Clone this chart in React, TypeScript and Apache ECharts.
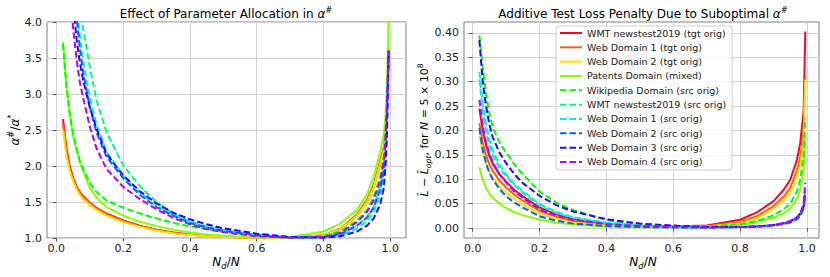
import React, { useEffect, useRef } from 'react';
import * as echarts from 'echarts';

const seriesNames = [
  'WMT newstest2019 (tgt orig)',
  'Web Domain 1 (tgt orig)',
  'Web Domain 2 (tgt orig)',
  'Patents Domain (mixed)',
  'Wikipedia Domain (src orig)',
  'WMT newstest2019 (src orig)',
  'Web Domain 1 (src orig)',
  'Web Domain 2 (src orig)',
  'Web Domain 3 (src orig)',
  'Web Domain 4 (src orig)',
];
const seriesColors = ['#ff0029', '#ff6100', '#ffe000', '#8aff00', '#00ff00', '#00ff89', '#00ebff', '#0061ff', '#2a00ff', '#b400ff'];
const seriesDashed = [false, false, false, false, true, true, true, true, true, true];

const xTicks = [0, 0.2, 0.4, 0.6, 0.8, 1.0];
const lossTicks = [0, 0.05, 0.1, 0.15, 0.2, 0.25, 0.3, 0.35, 0.4];

// Left panel: alpha#/alpha* vs Nd/N
const alphaX = [0.02, 0.03, 0.04, 0.05, 0.06, 0.07, 0.08, 0.1, 0.12, 0.15, 0.2, 0.25, 0.3, 0.35, 0.4, 0.45, 0.5, 0.6, 0.7, 0.8, 0.85, 0.9, 0.93, 0.95, 0.97, 0.98, 0.985, 0.99, 0.995];
const alphaWmtTgt = [2.65, 2.25, 2.0, 1.84, 1.72, 1.64, 1.58, 1.49, 1.42, 1.34, 1.245, 1.17, 1.115, 1.075, 1.05, 1.03, 1.018, 1.004, 1.0, 1.035, 1.12, 1.31, 1.5, 1.7, 2.03, 2.22, 2.45, 2.8, 3.6];
const alphaWeb1Tgt = [2.58, 2.2, 1.97, 1.82, 1.71, 1.63, 1.57, 1.48, 1.41, 1.33, 1.235, 1.165, 1.11, 1.07, 1.045, 1.027, 1.015, 1.003, 1.0, 1.04, 1.13, 1.33, 1.53, 1.74, 2.08, 2.25, 2.5, 2.85, 3.6];
const alphaWeb2Tgt = [2.5, 2.14, 1.93, 1.79, 1.68, 1.6, 1.54, 1.46, 1.39, 1.31, 1.22, 1.155, 1.1, 1.065, 1.04, 1.024, 1.013, 1.003, 1.0, 1.037, 1.12, 1.31, 1.5, 1.7, 2.03, 2.2, 2.45, 2.8, 3.6];
const alphaPatents = [3.72, 3.1, 2.7, 2.42, 2.22, 2.06, 1.93, 1.7, 1.56, 1.43, 1.31, 1.225, 1.165, 1.115, 1.075, 1.05, 1.03, 1.008, 1.01, 1.09, 1.2, 1.39, 1.6, 1.85, 2.2, 2.42, 2.65, 3.1, 4.1];
const alphaWikiSrc = [3.7, 3.12, 2.74, 2.46, 2.26, 2.08, 1.96, 1.77, 1.64, 1.52, 1.42, 1.34, 1.27, 1.21, 1.16, 1.12, 1.085, 1.035, 1.008, 1.03, 1.09, 1.24, 1.39, 1.56, 1.86, 2.1, 2.35, 2.8, 3.6];
const alphaWmtSrc = [12, 8.5, 6.6, 5.4, 4.7, 4.25, 3.92, 3.38, 2.92, 2.47, 2.01, 1.72, 1.5, 1.34, 1.23, 1.16, 1.11, 1.045, 1.008, 1.015, 1.06, 1.17, 1.29, 1.43, 1.72, 1.97, 2.25, 2.75, 3.6];
const alphaWeb1Src = [11.5, 8, 6.1, 4.95, 4.3, 3.82, 3.47, 2.95, 2.58, 2.2, 1.86, 1.63, 1.45, 1.32, 1.22, 1.155, 1.105, 1.04, 1.006, 1.008, 1.04, 1.13, 1.23, 1.35, 1.6, 1.82, 2.08, 2.55, 3.6];
const alphaWeb2Src = [11, 7.6, 5.8, 4.7, 4.1, 3.65, 3.3, 2.82, 2.47, 2.13, 1.83, 1.6, 1.43, 1.31, 1.21, 1.145, 1.1, 1.038, 1.005, 1.012, 1.055, 1.17, 1.28, 1.42, 1.68, 1.92, 2.2, 2.68, 3.6];
const alphaWeb3Src = [10, 7, 5.3, 4.3, 3.78, 3.45, 3.2, 2.82, 2.52, 2.17, 1.87, 1.65, 1.48, 1.35, 1.26, 1.19, 1.135, 1.06, 1.015, 1.003, 1.025, 1.09, 1.17, 1.27, 1.47, 1.68, 1.95, 2.4, 3.6];
const alphaWeb4Src = [9, 6.2, 4.7, 3.92, 3.5, 3.17, 2.95, 2.55, 2.25, 1.96, 1.71, 1.54, 1.4, 1.28, 1.19, 1.125, 1.08, 1.025, 1.002, 1.015, 1.07, 1.22, 1.36, 1.52, 1.8, 2.05, 2.35, 2.85, 3.6];

// Right panel: loss penalty vs Nd/N
const lossX = [0.02, 0.03, 0.04, 0.05, 0.06, 0.08, 0.1, 0.125, 0.15, 0.2, 0.25, 0.3, 0.4, 0.5, 0.6, 0.7, 0.8, 0.85, 0.9, 0.93, 0.95, 0.97, 0.98, 0.99, 0.995];
const lossWmtTgt = [0.245, 0.2, 0.17, 0.148, 0.132, 0.11, 0.095, 0.078, 0.065, 0.042, 0.028, 0.018, 0.008, 0.004, 0.003, 0.005, 0.017, 0.032, 0.055, 0.078, 0.099, 0.14, 0.175, 0.24, 0.403];
const lossWeb1Tgt = [0.215, 0.175, 0.15, 0.13, 0.117, 0.097, 0.083, 0.068, 0.056, 0.035, 0.023, 0.014, 0.006, 0.003, 0.002, 0.004, 0.012, 0.024, 0.045, 0.064, 0.082, 0.118, 0.145, 0.2, 0.31];
const lossWeb2Tgt = [0.19, 0.155, 0.132, 0.115, 0.103, 0.085, 0.072, 0.059, 0.048, 0.029, 0.019, 0.011, 0.005, 0.002, 0.002, 0.003, 0.01, 0.02, 0.04, 0.057, 0.072, 0.106, 0.13, 0.18, 0.304];
const lossPatents = [0.124, 0.098, 0.082, 0.07, 0.062, 0.05, 0.041, 0.032, 0.026, 0.017, 0.011, 0.007, 0.003, 0.001, 0.001, 0.002, 0.006, 0.012, 0.021, 0.03, 0.04, 0.06, 0.08, 0.12, 0.19];
const lossWikiSrc = [0.395, 0.33, 0.275, 0.235, 0.207, 0.175, 0.155, 0.13, 0.11, 0.075, 0.052, 0.037, 0.016, 0.007, 0.003, 0.003, 0.008, 0.014, 0.026, 0.038, 0.05, 0.075, 0.1, 0.15, 0.225];
const lossWmtSrc = [0.32, 0.255, 0.212, 0.18, 0.158, 0.13, 0.11, 0.09, 0.075, 0.049, 0.033, 0.022, 0.011, 0.005, 0.002, 0.001, 0.002, 0.003, 0.006, 0.009, 0.013, 0.021, 0.029, 0.045, 0.08];
const lossWeb1Src = [0.305, 0.24, 0.2, 0.17, 0.15, 0.123, 0.106, 0.087, 0.072, 0.046, 0.031, 0.021, 0.01, 0.005, 0.002, 0.001, 0.002, 0.003, 0.006, 0.009, 0.013, 0.02, 0.027, 0.042, 0.072];
const lossWeb2Src = [0.205, 0.16, 0.133, 0.113, 0.1, 0.08, 0.065, 0.052, 0.042, 0.024, 0.015, 0.009, 0.004, 0.002, 0.001, 0.001, 0.002, 0.003, 0.005, 0.008, 0.011, 0.018, 0.025, 0.04, 0.065];
const lossWeb3Src = [0.385, 0.3, 0.25, 0.212, 0.186, 0.155, 0.133, 0.11, 0.092, 0.066, 0.047, 0.034, 0.018, 0.009, 0.005, 0.002, 0.002, 0.003, 0.006, 0.01, 0.014, 0.022, 0.03, 0.045, 0.075];
const lossWeb4Src = [0.263, 0.21, 0.175, 0.152, 0.135, 0.11, 0.093, 0.075, 0.062, 0.038, 0.025, 0.017, 0.008, 0.004, 0.002, 0.001, 0.002, 0.003, 0.006, 0.01, 0.014, 0.022, 0.03, 0.05, 0.093];

const alphaSeries = [alphaWmtTgt, alphaWeb1Tgt, alphaWeb2Tgt, alphaPatents, alphaWikiSrc, alphaWmtSrc, alphaWeb1Src, alphaWeb2Src, alphaWeb3Src, alphaWeb4Src];
const lossSeries = [lossWmtTgt, lossWeb1Tgt, lossWeb2Tgt, lossPatents, lossWikiSrc, lossWmtSrc, lossWeb1Src, lossWeb2Src, lossWeb3Src, lossWeb4Src];

const FONT = 'DejaVu Sans';

const richStyles = (size: number) => ({
  t: { fontSize: size, fontFamily: FONT, fill: '#000', lineHeight: 16, verticalAlign: 'middle' },
  i: { fontSize: size, fontFamily: FONT, fontStyle: 'italic', fill: '#000', lineHeight: 16, verticalAlign: 'middle' },
  s: { fontSize: size * 0.7, fontFamily: FONT, fill: '#000', lineHeight: 7, verticalAlign: 'top' },
  b: { fontSize: size * 0.7, fontFamily: FONT, fontStyle: 'italic', fill: '#000', lineHeight: 7, verticalAlign: 'bottom' },
});

export default function App() {
  const ref = useRef<HTMLDivElement>(null);
  useEffect(() => {
    if (!ref.current) return;
    const chart = echarts.init(ref.current, undefined, { renderer: 'svg' });

    const axisCommon = {
      type: 'value' as const,
      axisLine: { show: false },
      axisTick: { show: true, inside: false, length: 3.5, lineStyle: { color: '#555', width: 1 } },
      axisLabel: { color: '#222', fontSize: 11, fontFamily: FONT, margin: 5, showMinLabel: true, showMaxLabel: true },
      splitLine: { show: true, lineStyle: { color: '#d4d4d4', width: 1 } },
    };

    const mkSeries = (xs: number[], ys: number[], i: number, idx: number) => ({
      type: 'line',
      name: seriesNames[i],
      xAxisIndex: idx,
      yAxisIndex: idx,
      data: xs.map((x, k) => [x, ys[k]]),
      symbol: 'none',
      smooth: false,
      clip: true,
      lineStyle: { color: seriesColors[i], width: 2, type: seriesDashed[i] ? [6.5, 3] : 'solid', cap: 'butt', join: 'round' },
      itemStyle: { color: seriesColors[i] },
      z: 3 + i,
    });

    const series: any[] = [];
    alphaSeries.forEach((ys, i) => series.push(mkSeries(alphaX, ys, i, 0)));
    lossSeries.forEach((ys, i) => series.push(mkSeries(lossX, ys, i, 1)));

    chart.setOption({
      animation: false,
      backgroundColor: '#fff',
      grid: [
        { left: 47, top: 22, width: 359, height: 216, show: true, borderColor: '#808080', borderWidth: 1, backgroundColor: 'transparent' },
        { left: 464, top: 22, width: 355, height: 216, show: true, borderColor: '#808080', borderWidth: 1, backgroundColor: 'transparent' },
      ],
      xAxis: [
        {
          ...axisCommon, gridIndex: 0, min: -0.028, max: 1.047,
          axisTick: { ...axisCommon.axisTick, customValues: xTicks },
          axisLabel: { ...axisCommon.axisLabel, customValues: xTicks, formatter: (v: number) => v.toFixed(1) },
        },
        {
          ...axisCommon, gridIndex: 1, min: -0.026, max: 1.036,
          axisTick: { ...axisCommon.axisTick, customValues: xTicks },
          axisLabel: { ...axisCommon.axisLabel, customValues: xTicks, formatter: (v: number) => v.toFixed(1) },
        },
      ],
      yAxis: [
        {
          ...axisCommon, gridIndex: 0, min: 1, max: 4, interval: 0.5,
          axisLabel: { ...axisCommon.axisLabel, formatter: (v: number) => v.toFixed(1) },
        },
        {
          ...axisCommon, gridIndex: 1, min: -0.0205, max: 0.4225,
          axisTick: { ...axisCommon.axisTick, customValues: lossTicks },
          axisLabel: { ...axisCommon.axisLabel, customValues: lossTicks, formatter: (v: number) => v.toFixed(2) },
        },
      ],
      legend: {
        data: seriesNames,
        orient: 'vertical',
        left: 556,
        top: 26,
        itemWidth: 22,
        itemHeight: 12,
        itemGap: 2.33,
        padding: [1, 6, 2, 3],
        backgroundColor: 'rgba(255,255,255,0.85)',
        borderColor: '#d0d0d0',
        borderWidth: 1,
        borderRadius: 3,
        selectedMode: false,
        itemStyle: { opacity: 0 },
        textStyle: { fontSize: 9.5, fontFamily: FONT, color: '#222', lineHeight: 12 },
        z: 20,
      },
      graphic: [
        {
          type: 'text', x: 226, y: 14, z: 30,
          style: { text: '{t|Effect of Parameter Allocation in }{i|α}{s|#}', rich: richStyles(12), align: 'center', verticalAlign: 'middle' },
        },
        {
          type: 'text', x: 643, y: 14, z: 30,
          style: { text: '{t|Additive Test Loss Penalty Due to Suboptimal }{i|α}{s|#}', rich: richStyles(12), align: 'center', verticalAlign: 'middle' },
        },
        {
          type: 'text', x: 226, y: 262, z: 30,
          style: { text: '{i|N}{b|d}{t|/}{i|N}', rich: richStyles(12), align: 'center', verticalAlign: 'middle' },
        },
        {
          type: 'text', x: 643, y: 262, z: 30,
          style: { text: '{i|N}{b|d}{t|/}{i|N}', rich: richStyles(12), align: 'center', verticalAlign: 'middle' },
        },
        {
          type: 'text', x: 15, y: 130, rotation: Math.PI / 2, z: 30,
          style: { text: '{i|α}{s|#}{t|/}{i|α}{s|*}', rich: richStyles(12), align: 'center', verticalAlign: 'middle' },
        },
        {
          type: 'text', x: 424, y: 130, rotation: Math.PI / 2, z: 30,
          style: { text: '{i|L\u0302}{t| − }{i|L\u0302}{b|opt}{t|, for }{i|N}{t| = 5 × 10}{s|8}', rich: richStyles(11), align: 'center', verticalAlign: 'middle' },
        },
      ],
      series,
    });
    return () => chart.dispose();
  }, []);
  return <div ref={ref} style={{ width: 830, height: 277, position: 'absolute', left: 0, top: 0 }} />;
}
